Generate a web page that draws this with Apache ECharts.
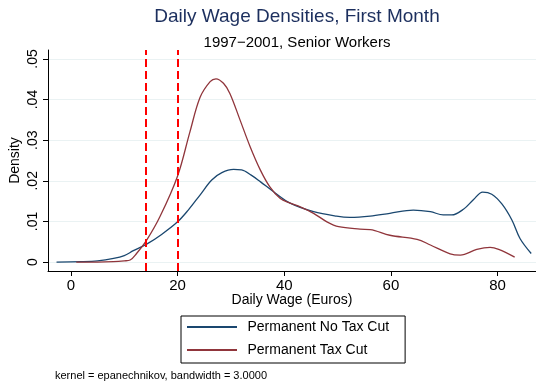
<!DOCTYPE html>
<html>
<head>
<meta charset="utf-8">
<script src="https://cdn.jsdelivr.net/npm/echarts@6/dist/echarts.min.js"></script>
<style>
  html, body { margin: 0; padding: 0; background: #ffffff; }
  #chart { width: 536px; height: 385px; }
</style>
</head>
<body>
<div id="chart"></div>
<script>
// Kernel density estimates of daily wage (x in euros, y = density)
const noTaxCutX = [-2.7, 2, 5, 8, 10, 11.7, 14.2, 17, 20, 22, 24.2, 26.4, 28.3, 30.5, 32, 33.8, 35.5, 38, 41.1, 45.5, 49.8, 52.3, 56.1, 59.8, 64.2, 67.4, 69.8, 71.4, 73.6, 75.5, 77.2, 78.9, 80.8, 82.7, 84.2, 86.3];
const noTaxCutY = [0, 0.0001, 0.0003, 0.0009, 0.0016, 0.0028, 0.0044, 0.0068, 0.0099, 0.0128, 0.0165, 0.0202, 0.0220, 0.0228, 0.0227, 0.0214, 0.0198, 0.0173, 0.0145, 0.0124, 0.0113, 0.0110, 0.0113, 0.0120, 0.0128, 0.0124, 0.0116, 0.0116, 0.0130, 0.0154, 0.0172, 0.0167, 0.0143, 0.0103, 0.0058, 0.0021];

const taxCutX = [1, 5, 8, 10, 11.1, 12.3, 14.2, 16.7, 20, 22.3, 24.2, 26.1, 27.2, 28.6, 29.8, 31.7, 33.6, 35.5, 37.3, 39.2, 41.1, 43, 45.5, 48, 50.2, 54.2, 56.1, 59.8, 64.9, 67.4, 71.1, 73, 76.1, 78.6, 80.2, 83.2];
const taxCutY = [0, 0, 0.0001, 0.0003, 0.0005, 0.0021, 0.0054, 0.0112, 0.0212, 0.0320, 0.0405, 0.0444, 0.0451, 0.0440, 0.0415, 0.0350, 0.0284, 0.0227, 0.0185, 0.0157, 0.0145, 0.0136, 0.0120, 0.0099, 0.0087, 0.0081, 0.0080, 0.0066, 0.0056, 0.0042, 0.0020, 0.0017, 0.0031, 0.0036, 0.0031, 0.0012];

// Reference wage thresholds (dashed)
const thresholds = [14, 20];

const xTicks = [0, 20, 40, 60, 80];
const yTicks = [0, 0.01, 0.02, 0.03, 0.04, 0.05];
const yTickLabels = ['0', '.01', '.02', '.03', '.04', '.05'];

const seriesNames = ['Permanent No Tax Cut', 'Permanent Tax Cut'];

const pairs = (xs, ys) => xs.map((x, i) => [x, ys[i]]);

const FONT = 'Liberation Sans, Arial, sans-serif';
const chart = echarts.init(document.getElementById('chart'), null, { renderer: 'canvas' });

chart.setOption({
  animation: false,
  backgroundColor: '#ffffff',
  title: [
    {
      text: 'Daily Wage Densities, First Month',
      left: 292, top: 2, textAlign: 'center',
      textStyle: { fontFamily: FONT, fontSize: 19, fontWeight: 'normal', color: '#1c2f5e' }
    },
    {
      text: '1997\u22122001, Senior Workers',
      left: 292, top: 30, textAlign: 'center',
      textStyle: { fontFamily: FONT, fontSize: 15, fontWeight: 'normal', color: '#000000' }
    },
    {
      text: 'kernel = epanechnikov, bandwidth = 3.0000',
      left: 50, top: 365,
      textStyle: { fontFamily: FONT, fontSize: 11, fontWeight: 'normal', color: '#000000' }
    }
  ],
  grid: { left: 48, right: 0, top: 50, bottom: 114, containLabel: false, outerBoundsMode: 'none' },
  legend: {
    orient: 'vertical',
    left: 181, top: 316,
    data: seriesNames,
    icon: 'path://M0,0 L1,0 L1,0.04 L0,0.04 Z',
    itemWidth: 53, itemHeight: 2, itemGap: 7,
    padding: [3, 16, 5, 6],
    borderColor: '#000000', borderWidth: 1,
    textStyle: { fontFamily: FONT, fontSize: 14, lineHeight: 16, color: '#000000', padding: [0, 0, 0, 4] }
  },
  xAxis: {
    type: 'value',
    min: -4.3, max: 87.2,
    name: 'Daily Wage (Euros)',
    nameLocation: 'middle', nameGap: 22, nameMoveOverlap: false,
    nameTextStyle: { fontFamily: FONT, fontSize: 14, color: '#000000' },
    axisLine: { show: true, onZero: false, lineStyle: { color: '#000000', width: 1 } },
    axisTick: { show: true, length: 5, customValues: xTicks, lineStyle: { color: '#000000' } },
    axisLabel: { customValues: xTicks, margin: 7, fontFamily: FONT, fontSize: 15, color: '#000000' },
    splitLine: { show: false }
  },
  yAxis: {
    type: 'value',
    min: -0.0022, max: 0.0522,
    name: 'Density',
    nameLocation: 'middle', nameGap: 26, nameRotate: 90, nameMoveOverlap: false,
    nameTextStyle: { fontFamily: FONT, fontSize: 14, color: '#000000' },
    axisLine: { show: true, onZero: false, lineStyle: { color: '#000000', width: 1 } },
    axisTick: { show: true, length: 5, customValues: yTicks, lineStyle: { color: '#000000' } },
    axisLabel: {
      customValues: yTicks, rotate: 90, margin: 8,
      fontFamily: FONT, fontSize: 14, color: '#000000',
      formatter: v => {
        const i = yTicks.findIndex(t => Math.abs(t - v) < 1e-9);
        return i >= 0 ? yTickLabels[i] : '';
      }
    },
    splitLine: { show: true, lineStyle: { color: '#eaf2f3', width: 1.2 } }
  },
  series: [
    {
      name: seriesNames[0],
      type: 'line',
      data: pairs(noTaxCutX, noTaxCutY),
      smooth: 0.35,
      showSymbol: false,
      lineStyle: { color: '#1a476f', width: 1.3 },
      itemStyle: { color: '#1a476f' },
      z: 3
    },
    {
      name: seriesNames[1],
      type: 'line',
      data: pairs(taxCutX, taxCutY),
      smooth: 0.35,
      showSymbol: false,
      lineStyle: { color: '#90353b', width: 1.3 },
      itemStyle: { color: '#90353b' },
      z: 4,
      markLine: {
        silent: true,
        symbol: 'none',
        label: { show: false },
        lineStyle: { color: '#ff0000', type: [8, 4], width: 2 },
        data: thresholds.map(t => ({ xAxis: t }))
      }
    }
  ]
});
</script>
</body>
</html>
